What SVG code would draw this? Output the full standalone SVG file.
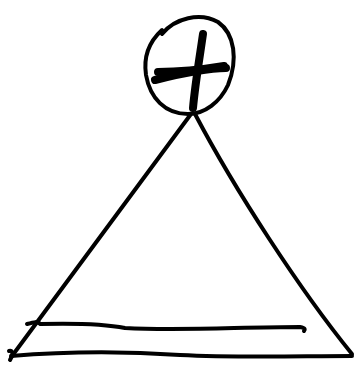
<svg xmlns="http://www.w3.org/2000/svg" width="360" height="365" viewBox="0 0 360 365">
<style>
.s{fill:none;stroke:#000;stroke-linecap:round;stroke-linejoin:round}
.t{stroke-width:4}
.b{stroke-width:8}
</style>
<rect width="360" height="365" fill="#fff"/>
<g id="circle-node">
<path class="s t" d="M162,34 C175,18 200,12 218,22 C235,34 238,60 228,85 C220,102 205,114 188,114 C165,114 150,98 146,75 C143,55 151,40 162,30"/>
<path class="s b" d="M203,34 C200,55 195,85 193,108"/>
<path class="s b" d="M155,80 C175,75 205,68 226,68"/>
<path class="s b" d="M158,72 C180,72 200,70 224,66"/>
</g>
<g id="triangle-node">
<path class="s t" d="M191,114 C150,170 90,250 12,356"/>
<path class="s t" d="M195,114 C235,190 300,290 352,354"/>
<path class="s t" d="M11,356 C60,352 120,351 180,355 C240,358 300,356 352,356"/>
<path class="s t" d="M27,324 C34,322 38,321 40,324 C80,323 105,324 125,328 C180,331 240,327 300,327 C306,328 305,330 304,331"/>
<path class="s t" d="M9,351 C12,350 13,353 12,356 L10,360"/>
</g>
<g id="connectors"/>
</svg>
